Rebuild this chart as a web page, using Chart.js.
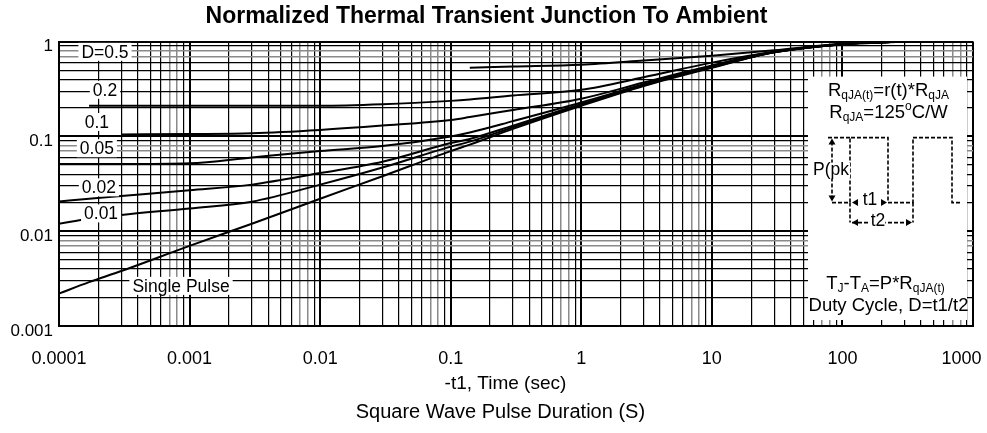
<!DOCTYPE html>
<html><head><meta charset="utf-8">
<script src="https://cdn.jsdelivr.net/npm/chart.js@4.4.0/dist/chart.umd.min.js"></script>
<style>html,body{margin:0;padding:0;background:#fff}#wrap{width:987px;height:433px;position:relative}</style>
</head><body><div id="wrap"><canvas id="c" width="987" height="433"></canvas></div>
<script>
// ---- data ----
const times       = [0.0001, 0.00017, 0.0003, 0.001, 0.003, 0.01, 0.03, 0.1, 0.14, 0.3, 1, 3, 10, 30, 100, 300];
const dutyHalf    = [null, null, null, null, null, null, null, null, 0.53, 0.545, 0.57, 0.63, 0.71, 0.81, 0.95, 1.0];
const duty020     = [null, 0.21, 0.21, 0.21, 0.21, 0.21, 0.218, 0.237, 0.245, 0.27, 0.31, 0.42, 0.60, 0.78, 0.945, 1.0];
const duty010     = [null, null, 0.105, 0.106, 0.108, 0.117, 0.13, 0.149, 0.16, 0.19, 0.25, 0.37, 0.56, 0.78, 0.94, 1.0];
const duty005     = [0.051, 0.051, 0.051, 0.052, 0.06, 0.07, 0.079, 0.10, 0.11, 0.145, 0.228, 0.355, 0.545, 0.775, 0.94, 1.0];
const duty002     = [0.0206, 0.022, 0.0235, 0.027, 0.031, 0.041, 0.054, 0.085, 0.094, 0.13, 0.22, 0.35, 0.54, 0.77, 0.94, 1.0];
const duty001     = [0.012, 0.0135, 0.0148, 0.0174, 0.0205, 0.031, 0.047, 0.078, 0.088, 0.125, 0.215, 0.345, 0.535, 0.77, 0.94, 1.0];
const singlePulse = [0.0022, 0.0029, 0.0038, 0.007, 0.012, 0.022, 0.038, 0.07, 0.082, 0.12, 0.21, 0.34, 0.53, 0.77, 0.93, 1.0];
const seriesNames = ['D=0.5', '0.2', '0.1', '0.05', '0.02', '0.01', 'Single Pulse'];
const xTickLabels = ['0.0001', '0.001', '0.01', '0.1', '1', '10', '100', '1000'];
const yTickLabels = ['0.001', '0.01', '0.1', '1'];
const titleText = 'Normalized Thermal Transient Junction To Ambient';
const xTitleText = '-t1, Time (sec)';
const subTitleText = 'Square Wave Pulse Duration (S)';

const FAM = "'Liberation Sans', Arial, Helvetica, sans-serif";
const seriesValues = [dutyHalf, duty020, duty010, duty005, duty002, duty001, singlePulse];

// label anchors in data coordinates (time, r(t))
const labelAnchors = [[2.25e-4, 0.78], [2.25e-4, 0.31], [1.95e-4, 0.142], [1.95e-4, 0.075], [2.02e-4, 0.029], [2.1e-4, 0.0154], [8.6e-4, 0.00265]];

function decadeTicks(minExp, maxExp) {
  const out = [];
  for (let e = minExp; e < maxExp; e++) {
    for (let m = 1; m <= 9; m++) out.push({ value: Number(m + 'e' + e) });
  }
  out.push({ value: Number('1e' + maxExp) });
  return out;
}
function mantissa(v) {
  const e = Math.floor(Math.log10(v) + 1e-9);
  return Math.round(v / Math.pow(10, e));
}
function gridColor(ctx) {
  const v = ctx.tick && ctx.tick.value;
  if (!v) return '#000';
  const m = mantissa(v);
  return (m === 7 || m === 8) ? '#8a8a8a' : '#000';
}
function gridWidth(ctx) {
  const v = ctx.tick && ctx.tick.value;
  if (!v) return 1;
  const m = mantissa(v);
  if (m === 1 || m === 10) return 2;
  return (m === 7 || m === 8) ? 1.5 : 1.2;
}
function isDecade(v) {
  const l = Math.log10(v);
  return Math.abs(l - Math.round(l)) < 1e-6;
}

function drawRuns(ctx, runs, cx, cy, big) {
  const small = Math.round(big * 0.66);
  let w = 0;
  const widths = runs.map(r => {
    ctx.font = (r[1] ? small : big) + 'px ' + FAM;
    const ww = ctx.measureText(r[0]).width; w += ww; return ww;
  });
  let xx = cx - w / 2;
  ctx.textAlign = 'left'; ctx.textBaseline = 'middle';
  runs.forEach((r, i) => {
    ctx.font = (r[1] ? small : big) + 'px ' + FAM;
    const dy = r[1] === 'sub' ? big * 0.28 : (r[1] === 'sup' ? -big * 0.32 : 0);
    ctx.fillText(r[0], xx, cy + dy);
    xx += widths[i];
  });
}
function arrowHead(ctx, x, y, dir) {
  const s = 5;
  ctx.beginPath();
  if (dir === 'left') { ctx.moveTo(x, y); ctx.lineTo(x + s + 1, y - s * 0.7); ctx.lineTo(x + s + 1, y + s * 0.7); }
  if (dir === 'right') { ctx.moveTo(x, y); ctx.lineTo(x - s - 1, y - s * 0.7); ctx.lineTo(x - s - 1, y + s * 0.7); }
  if (dir === 'up') { ctx.moveTo(x, y); ctx.lineTo(x - s * 0.7, y + s + 1); ctx.lineTo(x + s * 0.7, y + s + 1); }
  if (dir === 'down') { ctx.moveTo(x, y); ctx.lineTo(x - s * 0.7, y - s - 1); ctx.lineTo(x + s * 0.7, y - s - 1); }
  ctx.closePath(); ctx.fill();
}
function dashed(ctx, pts) {
  ctx.beginPath();
  ctx.moveTo(pts[0][0], pts[0][1]);
  for (let i = 1; i < pts.length; i++) ctx.lineTo(pts[i][0], pts[i][1]);
  ctx.stroke();
}

const annotations = {
  id: 'annotations',
  afterDatasetsDraw(chart) {
    const { ctx, chartArea: a, scales: { x, y } } = chart;
    ctx.save();
    // curve labels with white backgrounds
    ctx.font = '17.5px ' + FAM;
    ctx.textAlign = 'center'; ctx.textBaseline = 'middle';
    seriesNames.forEach((name, i) => {
      const px = x.getPixelForValue(labelAnchors[i][0]);
      const py = y.getPixelForValue(labelAnchors[i][1]);
      const w = ctx.measureText(name).width;
      ctx.fillStyle = '#fff';
      ctx.fillRect(px - w / 2 - 3, py - 9, w + 6, 18);
      ctx.fillStyle = '#000';
      ctx.fillText(name, px, py + 1);
    });
    // annotation box
    const L = a.right - 165, T = a.top + 35, R = a.right - 6, B = a.bottom - 6;
    ctx.fillStyle = '#fff';
    ctx.fillRect(L, T, R - L, B - T);
    ctx.fillStyle = '#000';
    const cx = (L + R) / 2;
    drawRuns(ctx, [['R'], ['qJA(t)', 'sub'], ['=r(t)*R'], ['qJA', 'sub']], cx + 1, T + 14, 18.5);
    drawRuns(ctx, [['R'], ['qJA', 'sub'], ['=125'], ['o', 'sup'], ['C/W']], cx + 1, T + 36, 18.5);
    drawRuns(ctx, [['T'], ['J', 'sub'], ['-T'], ['A', 'sub'], ['=P*R'], ['qJA(t)', 'sub']], cx - 2, B - 36, 18.5);
    drawRuns(ctx, [['Duty Cycle, D=t1/t2']], cx + 1, B - 14, 18.5);

    // pulse diagram
    const top = T + 61, base = T + 126, t2y = T + 146;
    const p1 = L + 42, p1e = L + 80, p2 = L + 105, p2e = L + 144, tail = L + 152, ax = L + 24;
    ctx.strokeStyle = '#000'; ctx.lineWidth = 1.6; ctx.setLineDash([4, 2]);
    dashed(ctx, [[ax - 4, top], [p1, top]]);
    dashed(ctx, [[ax, base], [p1, base], [p1, top], [p1e, top], [p1e, base], [p2, base], [p2, top], [p2e, top], [p2e, base], [tail, base]]);
    dashed(ctx, [[ax, top + 4], [ax, base - 4]]);
    dashed(ctx, [[p1, base], [p1, t2y]]);
    dashed(ctx, [[p2, base], [p2, t2y]]);
    dashed(ctx, [[p1 + 2, t2y], [p2 - 2, t2y]]);
    ctx.setLineDash([]);
    arrowHead(ctx, ax, top + 1, 'up');
    arrowHead(ctx, ax, base - 1, 'down');
    arrowHead(ctx, p1 + 2, base, 'left');
    arrowHead(ctx, p1e - 1, base, 'right');
    arrowHead(ctx, p1 + 2, t2y, 'left');
    arrowHead(ctx, p2 - 1, t2y, 'right');
    ctx.font = '17.5px ' + FAM; ctx.textAlign = 'center'; ctx.textBaseline = 'middle';
    // P(pk label
    let w = ctx.measureText('P(pk').width;
    ctx.fillStyle = '#fff'; ctx.fillRect(L + 4, top + 25, w + 2, 16);
    ctx.fillStyle = '#000'; ctx.textAlign = 'left'; ctx.fillText('P(pk', L + 5, top + 33);
    ctx.textAlign = 'center';
    w = ctx.measureText('t1').width;
    ctx.fillStyle = '#fff'; ctx.fillRect((p1 + p1e) / 2 - w / 2 - 1, base - 9, w + 2, 14);
    ctx.fillStyle = '#000'; ctx.fillText('t1', (p1 + p1e) / 2 + 1, base - 2);
    w = ctx.measureText('t2').width;
    ctx.fillStyle = '#fff'; ctx.fillRect(p1 + 27 - w / 2 - 1, t2y - 8, w + 2, 14);
    ctx.fillStyle = '#000'; ctx.fillText('t2', p1 + 28, t2y - 1);
    ctx.restore();
  }
};

const datasets = seriesNames.map((name, i) => ({
  label: name,
  data: times.map((t, k) => ({ x: t, y: seriesValues[i][k] })),
  borderColor: '#000',
  borderWidth: 2,
  pointRadius: 0,
  fill: false,
  cubicInterpolationMode: 'monotone',
  spanGaps: false
}));

new Chart(document.getElementById('c'), {
  type: 'line',
  data: { datasets },
  options: {
    responsive: false,
    animation: false,
    layout: { padding: { left: 0, right: 14, top: 0, bottom: 0 } },
    plugins: {
      legend: { display: false },
      tooltip: { enabled: false },
      title: {
        display: true, text: titleText, color: '#000',
        font: { family: FAM, size: 23, weight: 'bold' },
        padding: { top: 3, bottom: 11 }
      },
      subtitle: {
        display: true, text: '     ' + subTitleText, position: 'bottom', color: '#000',
        font: { family: FAM, size: 20 },
        padding: { top: 3, bottom: 9 }
      }
    },
    scales: {
      x: {
        type: 'logarithmic', min: 0.0001, max: 1000,
        afterBuildTicks: s => { s.ticks = decadeTicks(-4, 3); },
        afterFit: s => { s.height = 71; s.paddingLeft = 0; s.paddingRight = 0; },
        grid: { color: gridColor, lineWidth: gridWidth, drawTicks: false },
        border: { display: true, color: '#000', width: 2 },
        ticks: {
          autoSkip: false, maxRotation: 0, padding: 22, color: '#000',
          font: { family: FAM, size: 18 },
          callback: v => {
            if (!isDecade(v)) return '';
            const i = Math.round(Math.log10(v)) + 4;
            return i === xTickLabels.length - 1 ? xTickLabels[i] + '\u2003 ' : xTickLabels[i];
          }
        },
        title: { display: true, text: xTitleText + '    ', color: '#000', font: { family: FAM, size: 19 }, padding: { top: 0, bottom: 2 } }
      },
      y: {
        type: 'logarithmic', min: 0.001, max: 1,
        afterBuildTicks: s => { s.ticks = decadeTicks(-3, 0); },
        afterFit: s => { s.width = 59; },
        grid: { color: gridColor, lineWidth: gridWidth, drawTicks: false },
        border: { display: true, color: '#000', width: 2 },
        ticks: {
          autoSkip: false, padding: 6, color: '#000', labelOffset: 5,
          font: { family: FAM, size: 17 },
          callback: v => isDecade(v) ? yTickLabels[Math.round(Math.log10(v)) + 3] : ''
        }
      }
    }
  },
  plugins: [annotations]
});
</script>
</body></html>
